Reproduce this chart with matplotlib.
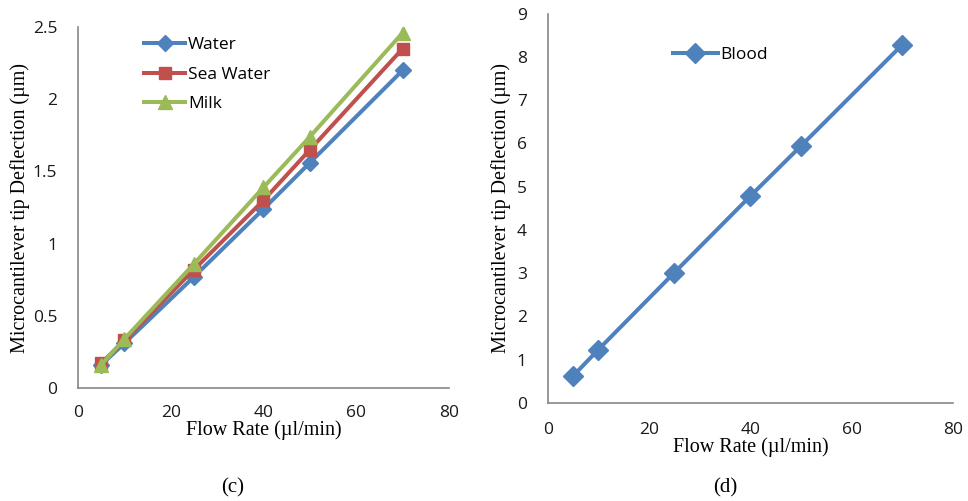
import numpy as np
from matplotlib import pyplot as plt

# Flow rates (ul/min)
flow = [5, 10, 25, 40, 50, 70]

# Deflection (um) for panel (c)
water = [0.16, 0.31, 0.77, 1.24, 1.56, 2.20]
sea_water = [0.17, 0.33, 0.82, 1.30, 1.65, 2.35]
milk = [0.16, 0.34, 0.86, 1.39, 1.74, 2.46]

# Deflection (um) for panel (d)
blood = [0.62, 1.23, 3.01, 4.78, 5.94, 8.28]

blue = '#4F81BD'
red = '#C0504D'
green = '#9BBB59'

tick_font = 'Open Sans'
label_font = 'Liberation Serif'

fig = plt.figure(figsize=(9.68, 5.01), dpi=100)
ax1 = fig.add_axes([0.0806, 0.2255, 0.3832, 0.7205])
ax2 = fig.add_axes([0.5658, 0.196, 0.4187, 0.777])


def style(ax, xpad=12):
    for s in ['top', 'right']:
        ax.spines[s].set_visible(False)
    for s in ['left', 'bottom']:
        ax.spines[s].set_color('#868686')
        ax.spines[s].set_linewidth(1.2)
    ax.tick_params(length=0, labelsize=12.5, colors='#1a1a1a')
    ax.tick_params(axis='y', pad=15)
    ax.tick_params(axis='x', pad=xpad)
    for lab in ax.get_xticklabels() + ax.get_yticklabels():
        lab.set_fontfamily(tick_font)


# Panel (c)
ax1.plot(flow, water, color=blue, marker='D', markersize=8, linewidth=2.9, label='Water')
ax1.plot(flow, sea_water, color=red, marker='s', markersize=9, linewidth=2.9, label='Sea Water')
ax1.plot(flow, milk, color=green, marker='^', markersize=10, linewidth=2.9, label='Milk')
ax1.set_xlim(0, 80)
ax1.set_ylim(0, 2.5)
ax1.set_xticks([0, 20, 40, 60, 80])
ax1.set_yticks([0, 0.5, 1, 1.5, 2, 2.5])
ax1.set_yticklabels(['0', '0.5', '1', '1.5', '2', '2.5'])
style(ax1)
ax1.set_xlabel('Flow Rate (\u00b5l/min)', fontfamily=label_font, fontsize=14.5, labelpad=0)
ax1.set_ylabel('Microcantilever tip Deflection (\u00b5m)', fontfamily=label_font, fontsize=14.5, labelpad=2)
ax1.legend(loc='upper left', bbox_to_anchor=(0.135, 1.015), frameon=False,
           prop={'family': tick_font, 'size': 12.5}, handlelength=2.4,
           handletextpad=0.15, labelspacing=0.75)

# Panel (d)
ax2.plot(flow, blood, color=blue, marker='D', markersize=10, linewidth=2.9, label='Blood')
ax2.set_xlim(0, 80)
ax2.set_ylim(0, 9)
ax2.set_xticks([0, 20, 40, 60, 80])
ax2.set_yticks(range(10))
style(ax2, xpad=14)
ax2.set_xlabel('Flow Rate (\u00b5l/min)', fontfamily=label_font, fontsize=14.5, labelpad=-1)
ax2.set_ylabel('Microcantilever tip Deflection (\u00b5m)', fontfamily=label_font, fontsize=14.5, labelpad=4)
ax2.legend(loc='upper left', bbox_to_anchor=(0.27, 0.955), frameon=False,
           prop={'family': tick_font, 'size': 12.5}, handlelength=2.6,
           handletextpad=0.15)

fig.text(233 / 968, 1 - 488 / 501, '(c)', fontfamily=label_font, fontsize=15,
         ha='center', va='center')
fig.text(725 / 968, 1 - 488 / 501, '(d)', fontfamily=label_font, fontsize=15,
         ha='center', va='center')

fig.savefig('out.png', dpi=100)
